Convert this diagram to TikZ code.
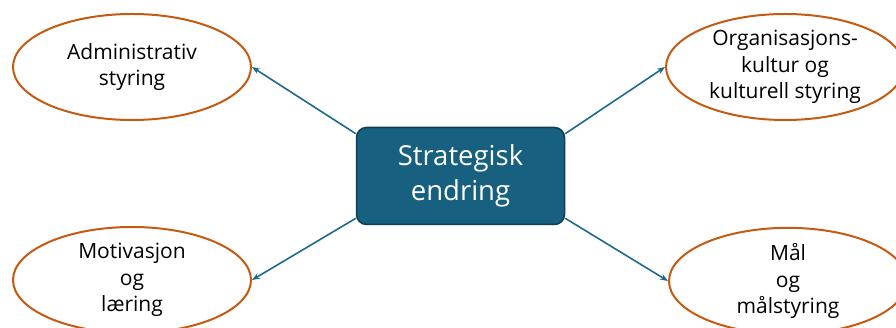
\documentclass[tikz,border=0pt]{standalone}
\usepackage{fontspec}
\setmainfont{Open Sans}
\usetikzlibrary{shapes.geometric,arrows.meta}

\definecolor{boxblue}{HTML}{17607F}
\definecolor{boxedge}{HTML}{0F3D52}
\definecolor{ringorange}{HTML}{C55A11}
\definecolor{linkblue}{HTML}{1C6A8C}

\tikzset{
  theme/.style={ellipse, draw=ringorange, line width=2pt, fill=white,
    minimum width=238pt, minimum height=106pt, inner sep=0pt, align=center,
    font=\fontsize{21}{26.5}\selectfont},
  core/.style={rectangle, rounded corners=10pt, draw=boxedge, line width=1.5pt,
    fill=boxblue, text=white, minimum width=208pt, minimum height=97pt,
    align=center, font=\fontsize{27.5}{35}\selectfont},
  link/.style={draw=linkblue, line width=1.6pt, -{Stealth[length=8pt,width=6pt]}}
}

\begin{document}
\begin{tikzpicture}[x=1pt,y=-1pt]
\useasboundingbox (0,0) rectangle (896,328);
\clip (0,0) rectangle (896,328);

% centre box and the four themes round it
\node[core] (change) at (460.5,176) {Strategisk\\endring};
\node[theme] (admin) at (132,67) {Administrativ\\styring};
\node[theme] (culture) at (785,67) {Organisasjons-\\kultur og\\kulturell styring};
\node[theme] (motiv) at (132,280) {Motivasjon\\og\\læring};
\node[theme] (goals) at (788,281) {Mål\\og\\målstyring};

% links out from the box
\draw[link] (change.158) -- (admin.east);
\draw[link] (change.22) -- (culture.west);
\draw[link] (change.202) -- (motiv.east);
\draw[link] (change.338) -- (goals.west);
\end{tikzpicture}
\end{document}
